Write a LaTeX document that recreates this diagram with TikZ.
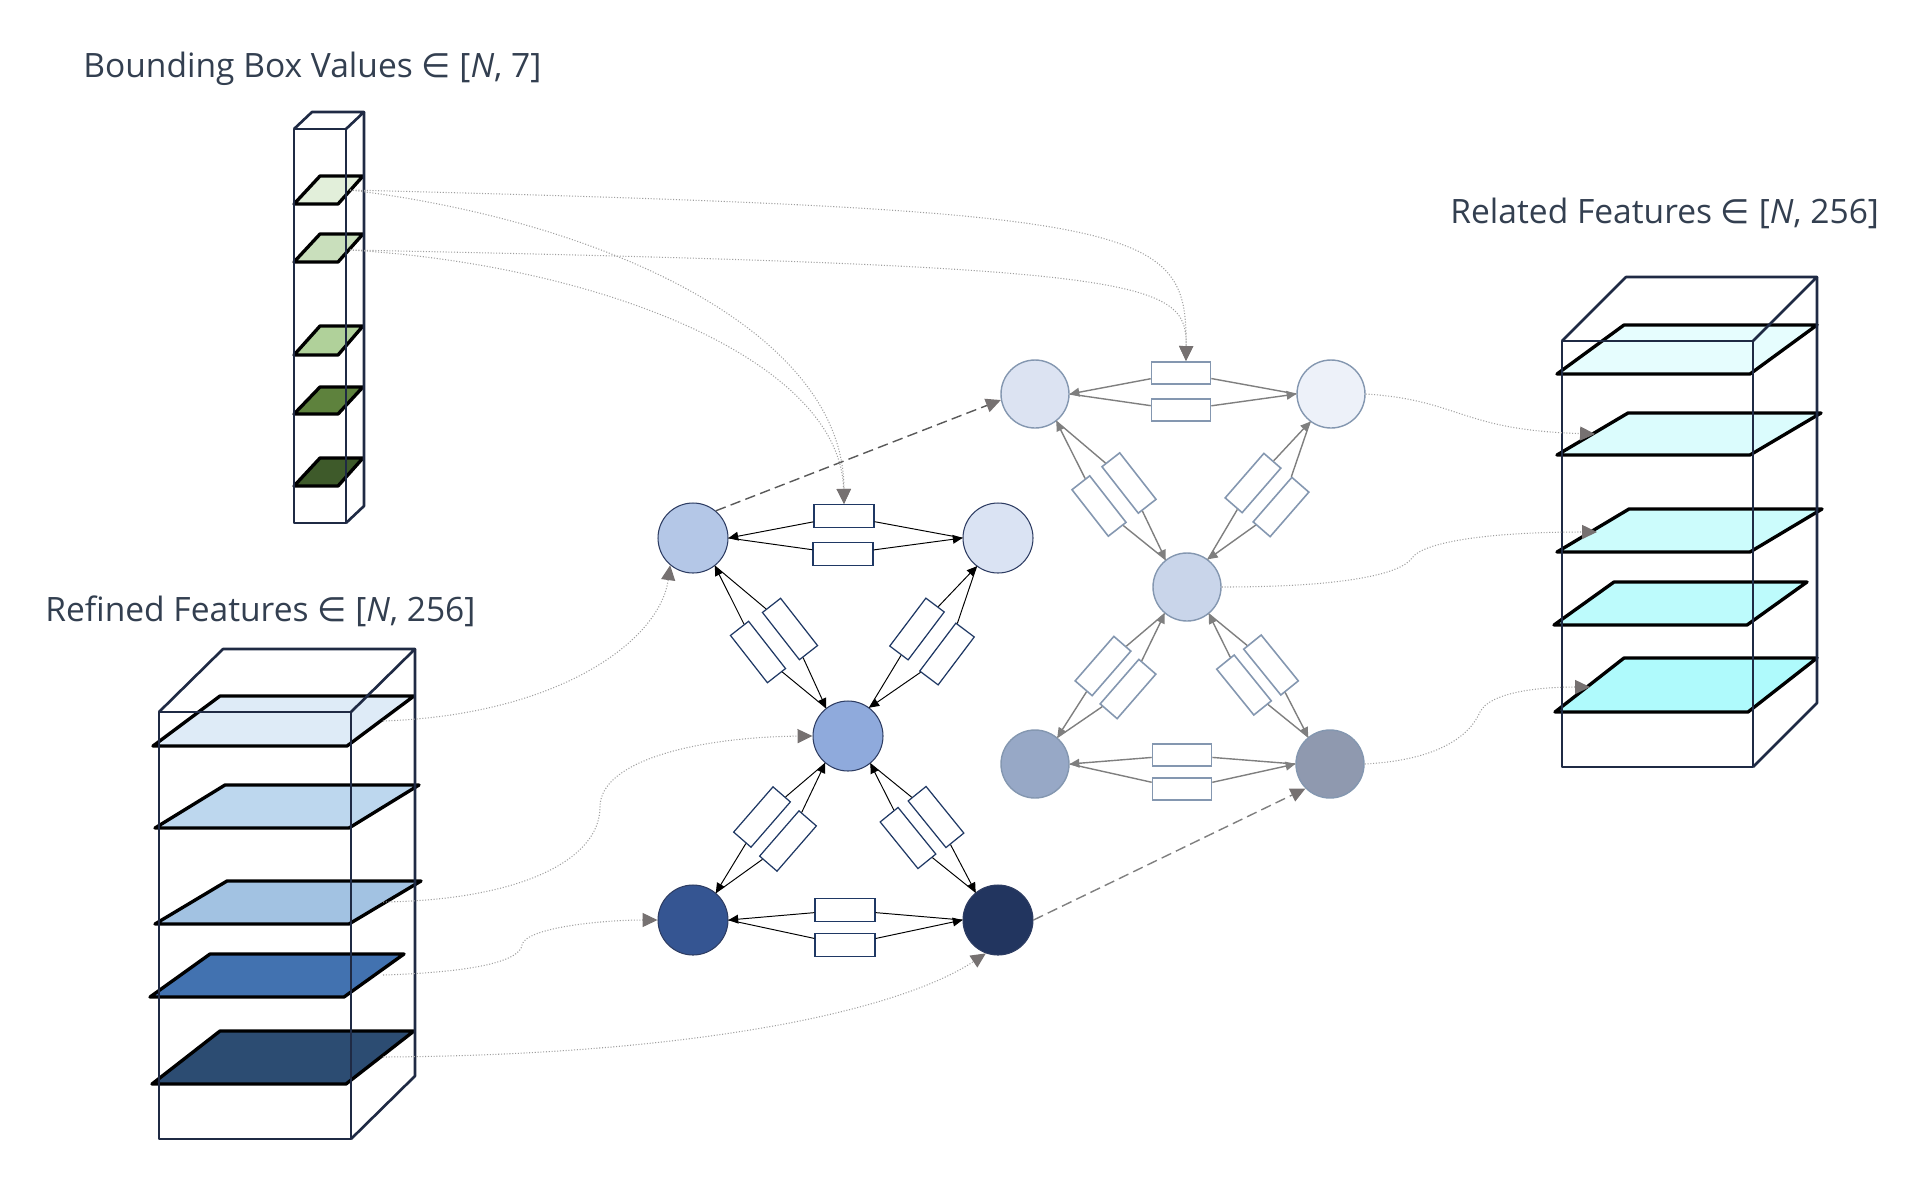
\documentclass[tikz,border=0pt]{standalone}
\usepackage{fontspec}
\setmainfont{Open Sans}
\newfontfamily\symfont{DejaVu Sans}
\usetikzlibrary{arrows.meta}

\definecolor{titlecol}{HTML}{333F50}
\definecolor{framecol}{HTML}{1F2A44}
\definecolor{green1}{HTML}{E2EFDA}
\definecolor{green2}{HTML}{C9DFBC}
\definecolor{green3}{HTML}{B0D19A}
\definecolor{green4}{HTML}{5E823D}
\definecolor{green5}{HTML}{3E5A2A}
\definecolor{blue1}{HTML}{DEEBF7}
\definecolor{blue2}{HTML}{BDD7EE}
\definecolor{blue3}{HTML}{A2C2E2}
\definecolor{blue4}{HTML}{4272B0}
\definecolor{blue5}{HTML}{2C4C72}
\definecolor{cyan1}{HTML}{E6FDFE}
\definecolor{cyan2}{HTML}{DBFCFD}
\definecolor{cyan3}{HTML}{CCFCFC}
\definecolor{cyan4}{HTML}{BDFBFC}
\definecolor{cyan5}{HTML}{AFFAFC}
\definecolor{nodeA}{HTML}{B4C7E7}
\definecolor{nodeB}{HTML}{DAE3F3}
\definecolor{nodeC}{HTML}{8FAADC}
\definecolor{nodeD}{HTML}{355592}
\definecolor{nodeE}{HTML}{22355F}
\definecolor{nodeF}{HTML}{DCE3F2}
\definecolor{nodeG}{HTML}{EDF1F9}
\definecolor{nodeH}{HTML}{C9D5EA}
\definecolor{nodeI}{HTML}{97A8C6}
\definecolor{nodeJ}{HTML}{8F99AF}
\definecolor{lline}{HTML}{2E3D63}
\definecolor{lboxcol}{HTML}{1F3864}
\definecolor{rline}{HTML}{8497B0}
\definecolor{rarrcol}{HTML}{7F7F7F}
\definecolor{linkcol}{HTML}{A0A0A0}
\definecolor{tipcol}{HTML}{767171}
\definecolor{jumpcol}{HTML}{595959}

\tikzset{
	frame/.style={draw=framecol, line width=1.5pt, line join=round},
	slab/.style={draw=black, line width=1.9pt, line join=round},
	title/.style={anchor=base west, inner sep=0pt, text=titlecol, font=\fontsize{19.1}{23}\selectfont},
	lnode/.style={circle, draw=lline, line width=0.6pt, minimum size=1.4cm, inner sep=0pt},
	rnode/.style={circle, draw=rline, line width=0.8pt, minimum size=1.36cm, inner sep=0pt},
	lbox/.style={draw=lboxcol, fill=white, line width=0.7pt, minimum width=1.2cm, minimum height=0.46cm, inner sep=0pt},
	rbox/.style={draw=rline, fill=white, line width=0.9pt, minimum width=1.18cm, minimum height=0.45cm, inner sep=0pt},
	larr/.style={->, draw=black, line width=0.55pt},
	rarr/.style={->, draw=rarrcol, line width=0.8pt},
	link/.style={densely dotted, draw=linkcol, line width=0.6pt, -{Triangle[length=8.5pt, width=8pt, color=tipcol]}},
	jump/.style={dash pattern=on 6pt off 3pt, line width=0.8pt, -{Triangle[length=8.5pt, width=8pt, color=tipcol]}}
}

\begin{document}
\begin{tikzpicture}[x=0.02cm, y=-0.02cm, >={Triangle[length=5.5pt, width=5pt]}]
	\useasboundingbox (0,0) rectangle (1924,1198);

	\node[title] (bbtitle) at (83,77) {Bounding Box Values {\symfont ∈} [\textit{N}, 7]};
	\node[title] (rftitle) at (45,621) {Refined Features {\symfont ∈} [\textit{N}, 256]};
	\node[title] (rltitle) at (1450,223) {Related Features {\symfont ∈} [\textit{N}, 256]};

	% bounding box values
	\foreach \ya/\yb/\col in {176/204/green1, 234/262/green2, 326/355/green3, 387/414/green4, 458/486/green5}
		\draw[slab, fill=\col] (294,\yb) -- (338,\yb) -- (363,\ya) -- (320,\ya) -- cycle;
	\draw[frame] (294,129) rectangle (346,523);
	\draw[frame] (294,129) -- (312,112) -- (364,112) -- (346,129);
	\draw[frame] (364,112) -- (364,506) -- (346,523);

	% refined features
	\foreach \ya/\yb/\xl/\dx/\col in {696/746/153/67/blue1, 785/828/155/70/blue2, 881/924/155/72/blue3, 954/997/150/60/blue4, 1031/1084/152/68/blue5}
		\draw[slab, fill=\col] (\xl,\yb) -- (\xl+194,\yb) -- (\xl+194+\dx,\ya) -- (\xl+\dx,\ya) -- cycle;
	\draw[frame] (159,712) rectangle (351,1139);
	\draw[frame] (159,712) -- (223,649) -- (415,649) -- (351,712);
	\draw[frame] (415,649) -- (415,1076) -- (351,1139);

	% related features
	\foreach \ya/\yb/\xl/\dx/\col in {325/374/1557/67/cyan1, 413/455/1557/71/cyan2, 509/552/1557/72/cyan3, 582/625/1554/60/cyan4, 658/712/1555/69/cyan5}
		\draw[slab, fill=\col] (\xl,\yb) -- (\xl+193,\yb) -- (\xl+193+\dx,\ya) -- (\xl+\dx,\ya) -- cycle;
	\draw[frame] (1562,341) rectangle (1753,767);
	\draw[frame] (1562,341) -- (1626,277) -- (1817,277) -- (1753,341);
	\draw[frame] (1817,277) -- (1817,703) -- (1753,767);

	% first graph
	\node[lnode, fill=nodeA] (A) at (693,538) {};
	\node[lnode, fill=nodeB] (B) at (998,538) {};
	\node[lnode, fill=nodeC] (C) at (848,736) {};
	\node[lnode, fill=nodeD] (D) at (693,920) {};
	\node[lnode, fill=nodeE] (E) at (998,920) {};

	\node[lbox] (AB1) at (844,516) {};
	\node[lbox] (AB2) at (843,554) {};
	\node[lbox, rotate=-52] (AC1) at (758,652) {};
	\node[lbox, rotate=-52] (AC2) at (790,629) {};
	\node[lbox, rotate=53] (BC1) at (917,629) {};
	\node[lbox, rotate=53] (BC2) at (947,654) {};
	\node[lbox, rotate=49] (CD1) at (762,817) {};
	\node[lbox, rotate=49] (CD2) at (788,841) {};
	\node[lbox, rotate=-51] (CE1) at (908,838) {};
	\node[lbox, rotate=-51] (CE2) at (936,817) {};
	\node[lbox] (DE1) at (845,910) {};
	\node[lbox] (DE2) at (845,945) {};

	\draw[larr] (B.west) -- (AB1) -- (A.east);
	\draw[larr] (A.east) -- (AB2) -- (B.west);
	\draw[larr] (C.128) -- (AC1) -- (A.-52);
	\draw[larr] (A.-52) -- (AC2) -- (C.128);
	\draw[larr] (C.53) -- (BC1) -- (B.-127);
	\draw[larr] (B.-127) -- (BC2) -- (C.53);
	\draw[larr] (C.-130) -- (CD1) -- (D.50);
	\draw[larr] (D.50) -- (CD2) -- (C.-130);
	\draw[larr] (E.129) -- (CE1) -- (C.-51);
	\draw[larr] (C.-51) -- (CE2) -- (E.129);
	\draw[larr] (E.west) -- (DE1) -- (D.east);
	\draw[larr] (D.east) -- (DE2) -- (E.west);

	% second graph
	\node[rnode, fill=nodeF] (F) at (1035,394) {};
	\node[rnode, fill=nodeG] (G) at (1331,394) {};
	\node[rnode, fill=nodeH] (H) at (1187,587) {};
	\node[rnode, fill=nodeI] (I) at (1035,764) {};
	\node[rnode, fill=nodeJ] (J) at (1330,764) {};

	\node[rbox] (FG1) at (1181,373) {};
	\node[rbox] (FG2) at (1181,410) {};
	\node[rbox, rotate=-52] (FH1) at (1099,506) {};
	\node[rbox, rotate=-52] (FH2) at (1129,483) {};
	\node[rbox, rotate=49] (GH1) at (1253,483) {};
	\node[rbox, rotate=49] (GH2) at (1281,507) {};
	\node[rbox, rotate=49] (HI1) at (1103,666) {};
	\node[rbox, rotate=49] (HI2) at (1128,689) {};
	\node[rbox, rotate=-51] (HJ1) at (1244,685) {};
	\node[rbox, rotate=-51] (HJ2) at (1271,665) {};
	\node[rbox] (IJ1) at (1182,755) {};
	\node[rbox] (IJ2) at (1182,789) {};

	\draw[rarr] (G.west) -- (FG1) -- (F.east);
	\draw[rarr] (F.east) -- (FG2) -- (G.west);
	\draw[rarr] (H.128) -- (FH1) -- (F.-52);
	\draw[rarr] (F.-52) -- (FH2) -- (H.128);
	\draw[rarr] (H.53) -- (GH1) -- (G.-127);
	\draw[rarr] (G.-127) -- (GH2) -- (H.53);
	\draw[rarr] (H.-130) -- (HI1) -- (I.50);
	\draw[rarr] (I.50) -- (HI2) -- (H.-130);
	\draw[rarr] (J.129) -- (HJ1) -- (H.-51);
	\draw[rarr] (H.-51) -- (HJ2) -- (J.129);
	\draw[rarr] (J.west) -- (IJ1) -- (I.east);
	\draw[rarr] (I.east) -- (IJ2) -- (J.west);

	% links
	\coordinate (bb1) at (350,190);
	\coordinate (bb2) at (350,250);
	\coordinate (rf1) at (383,721);
	\coordinate (rf3) at (383,902);
	\coordinate (rf4) at (383,975);
	\coordinate (rf5) at (383,1057);
	\coordinate (rl2) at (1595,434);
	\coordinate (rl3) at (1597,532);
	\coordinate (rl5) at (1590,687);

	\draw[link] (bb1) .. controls (600,220) and (844,330) .. (AB1.north);
	\draw[link] (bb2) .. controls (600,265) and (840,360) .. (AB1.north);
	\draw[link] (bb1) .. controls (1150,210) and (1187,225) .. ([xshift=0.1cm]FG1.north);
	\draw[link] (bb2) .. controls (1150,266) and (1187,280) .. ([xshift=0.1cm]FG1.north);

	\draw[link] (rf1) .. controls (560,715) and (660,640) .. (A.-130);
	\draw[link] (rf3) .. controls (520,900) and (600,860) .. (600,807)
		.. controls (600,760) and (700,737) .. (C.west);
	\draw[link] (rf4) .. controls (480,972) and (520,960) .. (522,945)
		.. controls (525,928) and (600,920) .. (D.west);
	\draw[link] (rf5) .. controls (700,1055) and (900,1010) .. (E.-110);

	\draw[link] (G.east) .. controls (1460,400) and (1460,430) .. (rl2);
	\draw[link] (H.east) .. controls (1340,587) and (1400,575) .. (1412,558)
		.. controls (1425,540) and (1500,532) .. (rl3);
	\draw[link] (J.east) .. controls (1440,760) and (1470,735) .. (1480,712)
		.. controls (1490,692) and (1540,687) .. (rl5);

	\draw[jump, draw=jumpcol] (A.50) -- (F.190);
	\draw[jump, draw=rarrcol] (E.east) -- (J.-135);
\end{tikzpicture}
\end{document}
